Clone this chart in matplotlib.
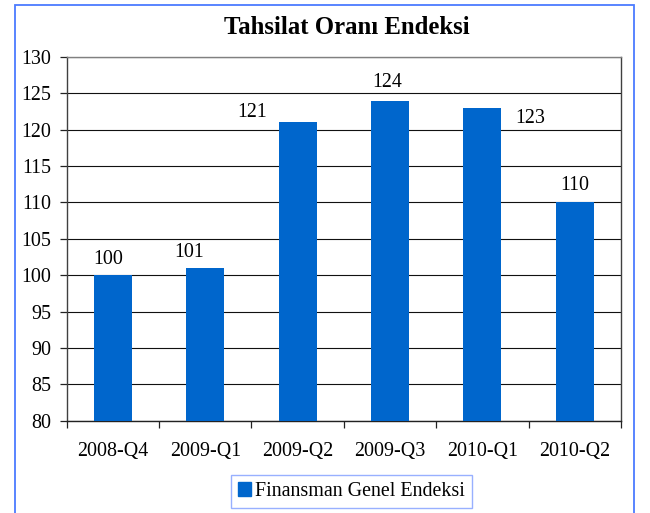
import matplotlib
matplotlib.use("Agg")
import matplotlib.pyplot as plt
from matplotlib.patches import Rectangle

# Quarterly collection-rate index
quarters = ["2008-Q4", "2009-Q1", "2009-Q2", "2009-Q3", "2010-Q1", "2010-Q2"]
index_values = [100, 101, 121, 124, 123, 110]
series_name = "Finansman Genel Endeksi"
title = "Tahsilat Oranı Endeksi"
y_ticks = [80, 85, 90, 95, 100, 105, 110, 115, 120, 125, 130]

# value labels are nudged around like in the spreadsheet original (pixels)
label_dx = [-5, -16, -46, -3, 48, 0]
label_dy = [11, 11, 5, 14, -15, 12]

BAR = "#0066CC"
FRAME = "#4B7BFF"

plt.rcParams["font.family"] = ["Liberation Serif", "DejaVu Serif"]

fig = plt.figure(figsize=(6.5, 5.13), dpi=100)
ax = fig.add_axes([0.1026, 0.1799, 0.8528, 0.7090])

x = list(range(len(quarters)))
ax.bar(x, index_values, width=0.41, color=BAR, zorder=3)

ax.set_xlim(-0.5, len(quarters) - 0.5)
ax.set_ylim(y_ticks[0], y_ticks[-1])
ax.set_yticks(y_ticks)
ax.yaxis.grid(True, color="#111111", linewidth=0.8, zorder=1)
ax.set_axisbelow(True)

# category boundaries carry the tick marks, labels sit between them
ax.set_xticks([i - 0.5 for i in range(len(quarters) + 1)])
ax.set_xticklabels([])
ax.set_xticks(x, minor=True)
ax.set_xticklabels(quarters, minor=True)
ax.tick_params(axis="x", which="major", length=5, width=0.9, color="#222222")
ax.tick_params(axis="x", which="minor", length=0, pad=15, labelsize=14.4)
ax.tick_params(axis="y", length=5, width=0.9, color="#222222", pad=6,
               labelsize=14.4)

ax.spines["top"].set_color("#808080")
ax.spines["left"].set_color("#404040")
ax.spines["right"].set_color("#404040")
ax.spines["bottom"].set_color("#222222")
for s in ax.spines.values():
    s.set_linewidth(1.0)

for xi, v, dx, dy in zip(x, index_values, label_dx, label_dy):
    ax.annotate(str(v), (xi, v), xytext=(dx, dy), textcoords="offset pixels",
                ha="center", va="baseline", fontsize=14.4, zorder=4)

fig.text(346.7 / 650, 1 - 33.5 / 513, title, ha="center", va="baseline",
         fontsize=17.8, fontweight="bold")

leg = fig.legend([Rectangle((0, 0), 1, 1, color=BAR)], [series_name],
                 loc="center", bbox_to_anchor=(351.3 / 650, 1 - 491.5 / 513),
                 fontsize=14.4, frameon=True, fancybox=False,
                 handlelength=0.65, handleheight=0.65, handletextpad=0.2,
                 borderpad=0.35, borderaxespad=0)
leg.get_frame().set_edgecolor("#7F9CFF")
leg.get_frame().set_linewidth(1.0)

# outer chart border
fig.add_artist(Rectangle((14.7 / 650, -0.02), (634 - 14.7) / 650,
                         1 - 5 / 513 + 0.02, transform=fig.transFigure,
                         fill=False, edgecolor=FRAME, linewidth=1.3))

fig.savefig("out.png", dpi=100)
